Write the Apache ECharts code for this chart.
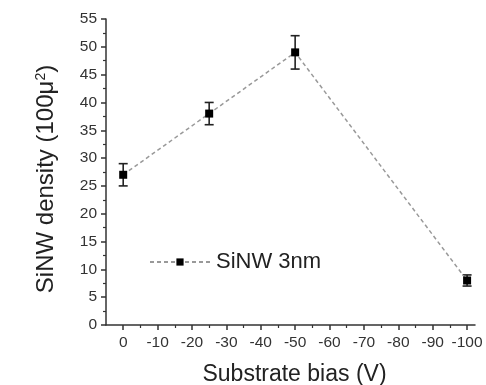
<!DOCTYPE html>
<html>
<head>
<meta charset="utf-8">
<script src="https://cdn.jsdelivr.net/npm/echarts@6/dist/echarts.min.js"></script>
<style>
html,body{margin:0;padding:0;background:#fff;}
#chart{width:486px;height:385px;}
</style>
</head>
<body>
<div id="chart"></div>
<script>
// ---- data ----
const biasV = [0, -25, -50, -100];
const densityVal = [27, 38, 49, 8];
const densityErr = [2, 2, 3, 1];
const seriesName = 'SiNW 3nm';
const xTickValues = [0, -10, -20, -30, -40, -50, -60, -70, -80, -90, -100];
const xMinorTickValues = [-5, -15, -25, -35, -45, -55, -65, -75, -85, -95];
const yMin = 0, yMax = 55, yStep = 5;
const xTitle = 'Substrate bias (V)';
const yTitleMain = 'SiNW density (100μ';
const yTitleSup = '2';

const FONT = '"Liberation Sans", Arial, sans-serif';
const AX = '#333';

const lineData = biasV.map((x, i) => [x, densityVal[i]]);
const errData = biasV.map((x, i) => [x, densityVal[i], densityErr[i]]);

const chart = echarts.init(document.getElementById('chart'), null, {renderer: 'canvas'});
chart.setOption({
  animation: false,
  backgroundColor: '#fff',
  grid: {left: 106, right: 11, top: 19, bottom: 60, containLabel: false, outerBoundsMode: 'none'},
  legend: {
    data: [seriesName],
    left: 144, top: 246,
    itemWidth: 60, itemHeight: 9, itemGap: 0,
    textStyle: {fontFamily: FONT, fontSize: 22, color: '#222', padding: [0, 0, 0, 1]},
    selectedMode: false
  },
  xAxis: [{
    type: 'value', inverse: true, min: -102.3, max: 5,
    axisLine: {show: true, onZero: false, lineStyle: {color: AX, width: 1.5}},
    axisTick: {show: true, inside: false, length: 5, lineStyle: {color: AX, width: 1.5}, customValues: xTickValues},
    axisLabel: {customValues: xTickValues, fontFamily: FONT, fontSize: 15.5, color: '#333', margin: 10},
    splitLine: {show: false},
    name: xTitle, nameLocation: 'middle', nameGap: 38,
    nameTextStyle: {fontFamily: FONT, fontSize: 23, color: '#222', padding: [0, 0, 0, 8]}
  }, {
    type: 'value', inverse: true, min: -102.3, max: 5, position: 'bottom',
    axisLine: {show: false, onZero: false},
    axisTick: {show: true, length: 3, lineStyle: {color: AX, width: 1.2}, customValues: xMinorTickValues},
    axisLabel: {show: false},
    splitLine: {show: false}
  }],
  yAxis: {
    type: 'value', min: yMin, max: yMax, interval: yStep,
    axisLine: {show: true, onZero: false, lineStyle: {color: AX, width: 1.5}},
    axisTick: {show: true, length: 5, lineStyle: {color: AX, width: 1.5}},
    minorTick: {show: true, splitNumber: 2, length: 3, lineStyle: {color: AX, width: 1.2}},
    axisLabel: {fontFamily: FONT, fontSize: 15.5, color: '#333', margin: 9},
    splitLine: {show: false},
    name: '{a|' + yTitleMain + '}{s|' + yTitleSup + '}{a|)}',
    nameLocation: 'middle', nameRotate: 90, nameGap: 48,
    nameTextStyle: {
      fontFamily: FONT, fontSize: 24, color: '#222', padding: [0, 14, 0, 0],
      rich: {
        a: {fontFamily: FONT, fontSize: 24, color: '#222'},
        s: {fontFamily: FONT, fontSize: 14, color: '#222', verticalAlign: 'top', padding: [0, 0, 10, 0]}
      }
    }
  },
  series: [{
    name: seriesName,
    type: 'line',
    data: lineData,
    symbol: 'rect', symbolSize: 8,
    itemStyle: {color: '#000'},
    lineStyle: {color: '#999', width: 1.5, type: [4, 3]},
    z: 3
  }, {
    name: 'err',
    type: 'custom',
    data: errData,
    encode: {x: 0, y: 1},
    z: 2,
    renderItem: function (params, api) {
      const x = api.value(0), y = api.value(1), e = api.value(2);
      const hi = api.coord([x, y + e]);
      const lo = api.coord([x, y - e]);
      const hw = 4.5;
      const st = {stroke: '#222', lineWidth: 1.6};
      return {
        type: 'group',
        children: [
          {type: 'line', shape: {x1: hi[0], y1: hi[1], x2: lo[0], y2: lo[1]}, style: st},
          {type: 'line', shape: {x1: hi[0] - hw, y1: hi[1], x2: hi[0] + hw, y2: hi[1]}, style: st},
          {type: 'line', shape: {x1: lo[0] - hw, y1: lo[1], x2: lo[0] + hw, y2: lo[1]}, style: st}
        ]
      };
    }
  }]
});
</script>
</body>
</html>
